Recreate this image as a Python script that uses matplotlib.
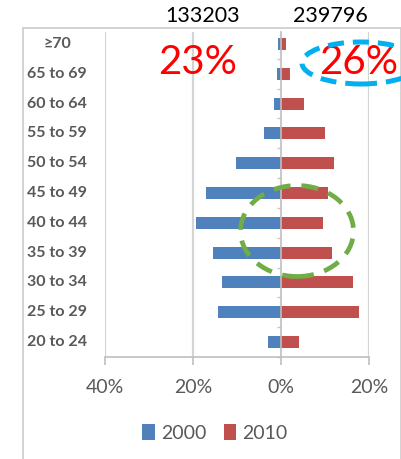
import matplotlib
matplotlib.use("Agg")
import matplotlib.pyplot as plt
import matplotlib.transforms as mtransforms
from matplotlib.patches import Ellipse
from matplotlib.lines import Line2D
import numpy as np

plt.rcParams['font.family'] = ['Lato', 'DejaVu Sans']

# Age groups, bottom to top
age_groups = ["20 to 24", "25 to 29", "30 to 34", "35 to 39", "40 to 44",
              "45 to 49", "50 to 54", "55 to 59", "60 to 64", "65 to 69", "\u226570"]
# Share of each age group (%)
share_2000 = [3.0, 14.4, 13.5, 15.5, 19.3, 17.1, 10.3, 3.9, 1.6, 0.8, 0.7]
share_2010 = [4.0, 17.7, 16.3, 11.5, 9.5, 10.6, 12.0, 10.0, 5.2, 2.0, 1.2]
series_names = ["2000", "2010"]
totals = ["133203", "239796"]
elderly_share = ["23%", "26%"]
x_ticks = [-40, -20, 0, 20]
x_tick_labels = ["40%", "20%", "0%", "20%"]

W, H = 402, 459
fig = plt.figure(figsize=(W / 100, H / 100), dpi=100)

def fx(px):
    return px / W

def fy(py):
    return 1 - py / H

blue = "#4f81bd"
red = "#c0504d"
grey_text = "#595959"
grid_grey = "#d4d4d4"

ax = fig.add_axes([fx(105), fy(357), fx(369) - fx(105), fy(32) - fy(357)])
y = np.arange(len(age_groups))
ax.barh(y, -np.array(share_2000), height=0.4, color=blue, label=series_names[0], zorder=3)
ax.barh(y, share_2010, height=0.4, color=red, label=series_names[1], zorder=3)

ax.set_xlim(-40, 20)
ax.set_ylim(-0.47, 10.4)

# vertical gridlines
for xv in [-40, -20, 20]:
    ax.axvline(xv, color=grid_grey, lw=1.6, zorder=1)

for s in ["top", "right"]:
    ax.spines[s].set_visible(False)
ax.spines["left"].set_position(("data", 0))
ax.spines["left"].set_color("#bfbfbf")
ax.spines["left"].set_linewidth(1.2)
ax.spines["left"].set_zorder(4)
ax.spines["bottom"].set_color("#bfbfbf")
ax.spines["bottom"].set_linewidth(1.2)

ax.set_yticks(np.arange(-0.5, 10.5, 1.0))
ax.tick_params(axis="y", direction="out", length=3, width=1.0, color="#c8c8c8",
               labelleft=False)
ax.set_xticks(x_ticks)
ax.set_xticklabels(x_tick_labels)
ax.tick_params(axis="x", direction="out", length=6, width=1.2, color="#bfbfbf",
               labelsize=14, labelcolor=grey_text, pad=10)

# category labels at the far left
trans = mtransforms.blended_transform_factory(fig.transFigure, ax.transData)
for yi, lab in zip(y, age_groups):
    fig.text(fx(57), yi, lab, transform=trans, ha="center", va="center",
             fontsize=11.5, fontweight="bold", color=grey_text)

# totals above the chart
fig.text(fx(203), fy(16), totals[0], ha="center", va="center", fontsize=15.5, color="black")
fig.text(fx(330), fy(16), totals[1], ha="center", va="center", fontsize=15.5, color="black")

# elderly share callouts
fig.text(fx(198), fy(62), elderly_share[0], ha="center", va="center", fontsize=29, color="#ff0000")
fig.text(fx(359), fy(62), elderly_share[1], ha="center", va="center", fontsize=29, color="#ff0000")

# dashed highlight ellipses
fig.add_artist(Ellipse((fx(361), fy(63)), fx(118), 42 / H, transform=fig.transFigure,
                       fill=False, edgecolor="#00b0f0", lw=3.6, linestyle=(0, (3.2, 1.8)),
                       zorder=6))
fig.add_artist(Ellipse((fx(297), fy(231)), fx(113), 91 / H, transform=fig.transFigure,
                       fill=False, edgecolor="#70ad47", lw=3.4, linestyle=(0, (3.6, 2.3)),
                       zorder=6))

# chart frame
frame_kw = dict(color="#d0d0d0", lw=1.3, transform=fig.transFigure)
fig.add_artist(Line2D([fx(23), fx(23)], [fy(28), 0], **frame_kw))
fig.add_artist(Line2D([fx(23), fx(401)], [fy(28), fy(28)], **frame_kw))
fig.add_artist(Line2D([fx(401), fx(401)], [fy(28), 0], **frame_kw))

# legend
leg = fig.legend(loc="center", bbox_to_anchor=(fx(215), fy(433)), ncol=2, frameon=False,
                 fontsize=14, handlelength=0.65, handleheight=0.9, handletextpad=0.3,
                 columnspacing=0.9, labelcolor=grey_text)

fig.savefig("out.png", dpi=100)
